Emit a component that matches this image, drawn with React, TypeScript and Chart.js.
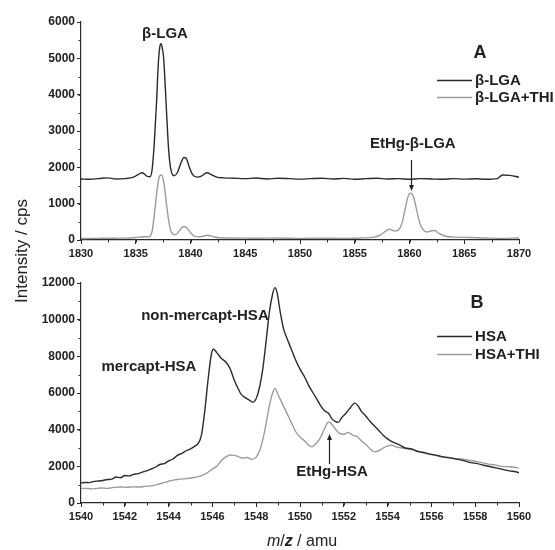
import React, { useEffect, useRef } from "react";
import { Chart, registerables } from "chart.js";
Chart.register(...registerables);

const FONT = "'Liberation Sans', Arial, Helvetica, sans-serif";
const DARK = "#2b2b2b";
const GRAY = "#9c9c9c";

// ---------- Panel A : beta-lactoglobulin A ----------
const lgaMz = [1830, 1830.8, 1831.6, 1832.4, 1833.2, 1834.0, 1834.8, 1835.2, 1835.6, 1836.0, 1836.3, 1836.5, 1836.7, 1836.9, 1837.05, 1837.2, 1837.3, 1837.4, 1837.55, 1837.7, 1837.85, 1838.0, 1838.2, 1838.5, 1838.8, 1839.1, 1839.4, 1839.6, 1839.9, 1840.2, 1840.6, 1841.0, 1841.5, 1841.9, 1842.4, 1843, 1844, 1845, 1846, 1847, 1848, 1849, 1850, 1851, 1852, 1853, 1854, 1855, 1856, 1857, 1858, 1859, 1860, 1861, 1862, 1863, 1864, 1865, 1866, 1867, 1868, 1868.5, 1869.2, 1870];
const lgaIntensity = [1680, 1670, 1690, 1710, 1680, 1690, 1730, 1800, 1850, 1760, 1740, 1950, 2700, 3800, 4800, 5320, 5400, 5320, 5000, 4200, 3300, 2500, 1950, 1770, 1850, 2100, 2270, 2250, 2000, 1800, 1730, 1760, 1850, 1800, 1730, 1710, 1700, 1690, 1705, 1680, 1700, 1690, 1675, 1690, 1700, 1680, 1695, 1670, 1690, 1700, 1680, 1690, 1670, 1690, 1680, 1670, 1690, 1675, 1685, 1670, 1690, 1790, 1780, 1730];
const lgaThiMz = [1830, 1831.5, 1833, 1834.5, 1835.3, 1835.8, 1836.2, 1836.5, 1836.7, 1836.9, 1837.05, 1837.2, 1837.35, 1837.5, 1837.65, 1837.8, 1838.0, 1838.25, 1838.6, 1838.9, 1839.2, 1839.45, 1839.7, 1840.0, 1840.4, 1840.9, 1841.5, 1842.0, 1842.6, 1844, 1846, 1848, 1850, 1852, 1854, 1855.5, 1856.8, 1857.4, 1857.9, 1858.2, 1858.6, 1859.0, 1859.3, 1859.6, 1859.85, 1860.1, 1860.35, 1860.6, 1860.9, 1861.2, 1861.6, 1862.0, 1862.3, 1862.7, 1863.2, 1864, 1865.5, 1867, 1868.5, 1870];
const lgaThiIntensity = [40, 45, 50, 55, 80, 90, 85, 250, 700, 1250, 1600, 1770, 1790, 1680, 1400, 1000, 550, 220, 140, 220, 340, 370, 320, 200, 100, 90, 130, 100, 60, 55, 50, 55, 45, 50, 45, 55, 80, 150, 260, 295, 250, 280, 450, 850, 1180, 1290, 1200, 900, 500, 300, 220, 255, 260, 180, 110, 80, 70, 55, 45, 55];
const xTicksA = [1830, 1835, 1840, 1845, 1850, 1855, 1860, 1865, 1870];
const yTicksA = [0, 1000, 2000, 3000, 4000, 5000, 6000];

// ---------- Panel B : human serum albumin ----------
const hsaMz = [1540.0, 1540.2, 1540.4, 1540.6, 1540.8, 1541.0, 1541.2, 1541.4, 1541.6, 1541.8, 1542.0, 1542.2, 1542.4, 1542.6, 1542.8, 1543.0, 1543.2, 1543.4, 1543.6, 1543.8, 1544.0, 1544.2, 1544.4, 1544.6, 1544.8, 1545.0, 1545.2, 1545.35, 1545.5, 1545.65, 1545.8, 1545.95, 1546.05, 1546.2, 1546.4, 1546.6, 1546.8, 1547.0, 1547.15, 1547.3, 1547.5, 1547.7, 1547.85, 1548.0, 1548.15, 1548.3, 1548.45, 1548.6, 1548.75, 1548.85, 1548.95, 1549.1, 1549.25, 1549.4, 1549.6, 1549.8, 1550.0, 1550.2, 1550.4, 1550.6, 1550.8, 1551.0, 1551.15, 1551.3, 1551.45, 1551.6, 1551.75, 1551.9, 1552.1, 1552.3, 1552.5, 1552.65, 1552.8, 1553.0, 1553.2, 1553.4, 1553.6, 1553.8, 1554.0, 1554.2, 1554.5, 1554.8, 1555.1, 1555.4, 1555.7, 1556.0, 1556.3, 1556.6, 1556.9, 1557.2, 1557.5, 1557.8, 1558.1, 1558.4, 1558.7, 1559.0, 1559.3, 1559.6, 1559.8, 1560.0];
const hsaIntensity = [1100, 1120, 1110, 1180, 1200, 1230, 1280, 1300, 1420, 1380, 1500, 1480, 1560, 1600, 1680, 1750, 1850, 1950, 2100, 2150, 2300, 2400, 2600, 2700, 2850, 2950, 3100, 3250, 3700, 5000, 6700, 8100, 8400, 8200, 7900, 7700, 7350, 6700, 6300, 5950, 5750, 5600, 5500, 5700, 6300, 7300, 8800, 10400, 11400, 11750, 11500, 10400, 9500, 9000, 8400, 7800, 7300, 6900, 6400, 6000, 5600, 5200, 5000, 4900, 4600, 4450, 4400, 4650, 4900, 5200, 5450, 5300, 5000, 4750, 4450, 4200, 3950, 3700, 3500, 3350, 3200, 3000, 2950, 2800, 2750, 2650, 2580, 2500, 2450, 2380, 2300, 2200, 2150, 2060, 1980, 1900, 1820, 1740, 1720, 1650];
const hsaThiMz = [1540.0, 1540.3, 1540.6, 1540.9, 1541.2, 1541.5, 1541.8, 1542.1, 1542.4, 1542.7, 1543.0, 1543.3, 1543.6, 1543.9, 1544.2, 1544.5, 1544.8, 1545.1, 1545.4, 1545.7, 1546.0, 1546.2, 1546.4, 1546.6, 1546.8, 1547.0, 1547.2, 1547.4, 1547.6, 1547.8, 1548.0, 1548.2, 1548.4, 1548.6, 1548.75, 1548.85, 1549.0, 1549.2, 1549.4, 1549.6, 1549.8, 1550.0, 1550.2, 1550.4, 1550.55, 1550.7, 1550.9, 1551.1, 1551.3, 1551.45, 1551.6, 1551.8, 1552.0, 1552.2, 1552.4, 1552.6, 1552.8, 1553.0, 1553.2, 1553.4, 1553.6, 1553.8, 1554.0, 1554.2, 1554.4, 1554.7, 1555.0, 1555.3, 1555.6, 1555.9, 1556.2, 1556.5, 1556.8, 1557.1, 1557.4, 1557.7, 1558.0, 1558.3, 1558.6, 1558.9, 1559.2, 1559.5, 1559.8, 1560.0];
const hsaThiIntensity = [800, 790, 770, 820, 800, 850, 870, 860, 880, 870, 920, 950, 1050, 1150, 1250, 1300, 1330, 1380, 1450, 1600, 1850, 2000, 2300, 2500, 2620, 2600, 2520, 2450, 2480, 2380, 2500, 3000, 4000, 5300, 6000, 6250, 5900, 5400, 4900, 4400, 3900, 3600, 3400, 3150, 3070, 3200, 3500, 4000, 4420, 4300, 4050, 3800, 3750, 3850, 3700, 3620, 3400, 3200, 2950, 2800, 2850, 3000, 3120, 3150, 3050, 3000, 2930, 2850, 2750, 2650, 2600, 2520, 2480, 2420, 2400, 2330, 2280, 2200, 2120, 2080, 2000, 1980, 1950, 1900];
const xTicksB = [1540, 1542, 1544, 1546, 1548, 1550, 1552, 1554, 1556, 1558, 1560];
const yTicksB = [0, 2000, 4000, 6000, 8000, 10000, 12000];

const toPoints = (xs: number[], ys: number[]) => xs.map((x, i) => ({ x, y: ys[i] }));

const overlayPlugin = {
  id: "overlay",
  afterDraw(chart: any, _args: any, opts: any) {
    const { ctx, chartArea } = chart;
    const sx = chart.scales.x;
    const sy = chart.scales.y;
    ctx.save();
    ctx.strokeStyle = DARK;
    ctx.lineWidth = 1;
    if (opts.minorX) {
      for (let v = sx.min; v <= sx.max + 1e-9; v += opts.minorX) {
        const px = Math.round(sx.getPixelForValue(v)) + 0.5;
        ctx.beginPath();
        ctx.moveTo(px, chartArea.bottom);
        ctx.lineTo(px, chartArea.bottom + 2.5);
        ctx.stroke();
      }
    }
    if (opts.minorY) {
      for (let v = sy.min; v <= sy.max + 1e-9; v += opts.minorY) {
        const py = Math.round(sy.getPixelForValue(v)) + 0.5;
        ctx.beginPath();
        ctx.moveTo(chartArea.left, py);
        ctx.lineTo(chartArea.left - 2.5, py);
        ctx.stroke();
      }
    }
    ctx.fillStyle = "#222";
    ctx.textBaseline = "middle";
    for (const t of opts.texts || []) {
      ctx.font = t.font;
      ctx.textAlign = "center";
      ctx.fillText(t.text, sx.getPixelForValue(t.x), sy.getPixelForValue(t.y));
    }
    for (const a of opts.arrows || []) {
      const px = Math.round(sx.getPixelForValue(a.x)) + 0.5;
      const p1 = sy.getPixelForValue(a.from);
      const p2 = sy.getPixelForValue(a.to);
      const dir = p2 > p1 ? 1 : -1;
      ctx.strokeStyle = "#222";
      ctx.lineWidth = 1.2;
      ctx.beginPath();
      ctx.moveTo(px, p1);
      ctx.lineTo(px, p2 - dir * 3);
      ctx.stroke();
      ctx.fillStyle = "#222";
      ctx.beginPath();
      ctx.moveTo(px, p2);
      ctx.lineTo(px - 2.5, p2 - dir * 6);
      ctx.lineTo(px + 2.5, p2 - dir * 6);
      ctx.closePath();
      ctx.fill();
    }
    const lg = opts.legend;
    if (lg) {
      const lx = sx.getPixelForValue(lg.x);
      let ly = sy.getPixelForValue(lg.y);
      ctx.font = lg.font;
      ctx.textAlign = "left";
      chart.data.datasets.forEach((ds: any) => {
        ctx.strokeStyle = ds.borderColor;
        ctx.lineWidth = ds.borderWidth;
        ctx.beginPath();
        ctx.moveTo(lx, Math.round(ly) + 0.5);
        ctx.lineTo(lx + 35, Math.round(ly) + 0.5);
        ctx.stroke();
        ctx.fillStyle = "#222";
        ctx.fillText(ds.label, lx + 38, ly + 0.5);
        ly += lg.spacing;
      });
    }
    ctx.restore();
  },
};

function makeScale(min: number, max: number, ticks: number[], isX: boolean, fitSize: number, fontSize: number) {
  return {
    type: "linear",
    min,
    max,
    afterBuildTicks: (scale: any) => {
      scale.ticks = ticks.map((v) => ({ value: v }));
    },
    afterFit: (scale: any) => {
      if (isX) scale.height = fitSize;
      else scale.width = fitSize;
    },
    grid: {
      display: true,
      drawOnChartArea: false,
      drawTicks: true,
      tickLength: 4,
      color: DARK,
      tickWidth: 1,
    },
    border: { display: true, color: DARK, width: 1.2 },
    ticks: {
      color: "#222",
      padding: isX ? 3 : 2,
      autoSkip: false,
      maxRotation: 0,
      font: { family: FONT, size: fontSize, weight: "bold" },
      callback: (v: any) => String(v),
    },
  };
}

const lineStyle = (color: string) => ({
  borderColor: color,
  borderWidth: 1.4,
  pointRadius: 0,
  tension: 0.4,
  cubicInterpolationMode: "monotone",
  fill: false,
});

export default function App() {
  const refA = useRef<HTMLCanvasElement>(null);
  const refB = useRef<HTMLCanvasElement>(null);

  useEffect(() => {
    const annFont = `bold 15px ${FONT}`;
    const chartA = new Chart(refA.current as HTMLCanvasElement, {
      type: "line",
      data: {
        datasets: [
          { label: "β-LGA", data: toPoints(lgaMz, lgaIntensity), ...lineStyle(DARK) },
          { label: "β-LGA+THI", data: toPoints(lgaThiMz, lgaThiIntensity), ...lineStyle(GRAY) },
        ],
      },
      options: {
        responsive: false,
        animation: false,
        parsing: false,
        layout: { padding: { left: 0, right: 36, top: 22, bottom: 0 } },
        scales: {
          x: makeScale(1830, 1870, xTicksA, true, 22, 11),
          y: makeScale(0, 6000, yTicksA, false, 81, 12),
        },
        plugins: {
          legend: { display: false },
          tooltip: { enabled: false },
          overlay: {
            minorX: 2.5,
            minorY: 500,
            texts: [
              { text: "β-LGA", x: 1837.67, y: 5683, font: annFont },
              { text: "EtHg-β-LGA", x: 1860.3, y: 2642, font: annFont },
              { text: "A", x: 1866.44, y: 5150, font: `bold 18px ${FONT}` },
            ],
            arrows: [{ x: 1860.14, from: 2202, to: 1349 }],
            legend: { x: 1862.51, y: 4404, spacing: 17.5, font: annFont },
          },
        } as any,
      } as any,
      plugins: [overlayPlugin],
    } as any);

    const chartB = new Chart(refB.current as HTMLCanvasElement, {
      type: "line",
      data: {
        datasets: [
          { label: "HSA", data: toPoints(hsaMz, hsaIntensity), ...lineStyle(DARK) },
          { label: "HSA+THI", data: toPoints(hsaThiMz, hsaThiIntensity), ...lineStyle(GRAY) },
        ],
      },
      options: {
        responsive: false,
        animation: false,
        parsing: false,
        layout: { padding: { left: 0, right: 36, top: 21, bottom: 0 } },
        scales: {
          x: makeScale(1540, 1560, xTicksB, true, 47, 11),
          y: makeScale(0, 12000, yTicksB, false, 81, 12),
        },
        plugins: {
          legend: { display: false },
          tooltip: { enabled: false },
          overlay: {
            minorX: 1,
            minorY: 1000,
            texts: [
              { text: "non-mercapt-HSA", x: 1545.66, y: 10200, font: annFont },
              { text: "mercapt-HSA", x: 1543.1, y: 7418, font: annFont },
              { text: "EtHg-HSA", x: 1551.46, y: 1691, font: annFont },
              { text: "B", x: 1558.08, y: 10909, font: `bold 18px ${FONT}` },
            ],
            arrows: [{ x: 1551.32, from: 2127, to: 3764 }],
            legend: { x: 1556.26, y: 9109, spacing: 18, font: annFont },
          },
        } as any,
      } as any,
      plugins: [overlayPlugin],
    } as any);

    return () => {
      chartA.destroy();
      chartB.destroy();
    };
  }, []);

  return (
    <div style={{ position: "absolute", left: 0, top: 0, width: 555, height: 550, background: "#fff", overflow: "hidden" }}>
      <canvas ref={refA} width={555} height={262} style={{ position: "absolute", left: 0, top: 0, display: "block" }} />
      <canvas ref={refB} width={555} height={288} style={{ position: "absolute", left: 0, top: 262, display: "block" }} />
      <div
        style={{
          position: "absolute",
          left: 22 - 100,
          top: 251 - 11,
          width: 200,
          height: 22,
          lineHeight: "22px",
          textAlign: "center",
          transform: "rotate(-90deg)",
          fontFamily: FONT,
          fontSize: 17,
          color: "#222",
        }}
      >
        Intensity / cps
      </div>
      <div
        style={{
          position: "absolute",
          left: 202,
          top: 531,
          width: 200,
          height: 20,
          lineHeight: "20px",
          textAlign: "center",
          fontFamily: FONT,
          fontSize: 16,
          color: "#222",
        }}
      >
        <i>m</i>/<b><i>z</i></b> / amu
      </div>
    </div>
  );
}
